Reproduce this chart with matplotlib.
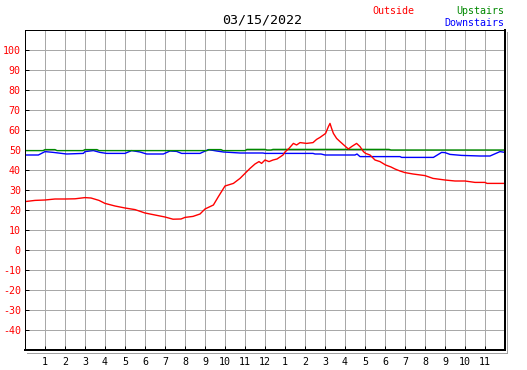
import matplotlib
matplotlib.use('Agg')
import matplotlib.pyplot as plt
from matplotlib.lines import Line2D
from matplotlib.transforms import IdentityTransform

plt.rcParams['font.family'] = ['DejaVu Sans Mono']

# ---- data (hours since midnight, temperature) ----
title = '03/15/2022'
series_names = ['Outside', 'Upstairs', 'Downstairs']

outside_t = [0, 0.5, 1, 1.5, 2, 2.5, 3, 3.3, 3.7, 4, 4.5, 5, 5.5, 6, 6.5, 7, 7.4, 7.8,
             8, 8.4, 8.75, 9, 9.42, 9.67, 10, 10.42, 10.75, 11, 11.25, 11.5, 11.7, 11.83,
             12, 12.2, 12.4, 12.6, 12.9, 13.0, 13.2, 13.42, 13.58, 13.75, 14.08, 14.4,
             14.58, 14.75, 14.92, 15.03, 15.17, 15.25, 15.33, 15.42, 15.58, 15.75, 16.03,
             16.17, 16.33, 16.58, 16.75, 16.92, 17.03, 17.25, 17.5, 17.75, 18.03, 18.3,
             18.5, 18.75, 19, 19.4, 20, 20.4, 21, 21.5, 22, 22.5, 23, 23.1, 24]
outside_v = [24.2, 24.8, 25.0, 25.5, 25.5, 25.6, 26.2, 26.0, 24.8, 23.3, 22.0, 21.0, 20.2,
             18.5, 17.5, 16.5, 15.4, 15.5, 16.3, 16.8, 18.0, 20.5, 22.5, 26.7, 32.0, 33.3,
             35.8, 38.3, 40.8, 43.0, 44.2, 43.3, 45.0, 44.2, 45.0, 45.5, 47.5, 49.0, 50.8,
             53.3, 52.5, 53.7, 53.3, 53.7, 55.3, 56.3, 57.5, 58.3, 61.7, 63.3, 60.8, 58.3,
             55.8, 54.2, 51.7, 50.5, 51.7, 53.3, 51.7, 49.2, 48.3, 47.5, 45.0, 44.2, 42.5,
             41.5, 40.5, 39.5, 38.7, 38.0, 37.2, 35.8, 35.0, 34.5, 34.5, 33.8, 33.8, 33.3, 33.3]

upstairs_t = [0, 0.9, 1.0, 1.5, 1.6, 2.9, 3.0, 3.6, 3.7, 9.1, 9.2, 9.8, 9.9, 11.0, 11.1,
              12.0, 12.1, 12.3, 12.4, 18.2, 18.3, 24]
upstairs_v = [49.7, 49.7, 50.2, 50.2, 49.7, 49.7, 50.2, 50.2, 49.7, 49.7, 50.2, 50.2, 49.7,
              49.7, 50.3, 50.3, 50.0, 50.0, 50.3, 50.3, 50.0, 50.0]

downstairs_t = [0, 0.67, 1.0, 1.42, 2.08, 2.92, 3.0, 3.42, 3.75, 4.08, 5.0, 5.33, 5.75,
                6.08, 6.92, 7.25, 7.58, 7.83, 8.75, 9.17, 9.58, 9.92, 10.75, 11.9, 12.0,
                14.4, 14.5, 14.8, 15.0, 16.5, 16.6, 16.75, 18.75, 18.83, 20.42, 20.83, 21.0,
                21.25, 21.83, 22.75, 23.25, 23.75, 24]
downstairs_v = [47.5, 47.5, 49.2, 48.8, 48.0, 48.3, 49.2, 49.7, 48.8, 48.3, 48.3, 49.7, 49.0,
                48.0, 48.0, 49.5, 49.3, 48.3, 48.3, 50.2, 49.5, 49.0, 48.5, 48.5, 48.3,
                48.3, 48.0, 48.0, 47.5, 47.5, 48.0, 46.7, 46.7, 46.3, 46.3, 48.8, 48.7,
                47.8, 47.3, 47.0, 47.0, 49.2, 48.8]

x_ticks = list(range(1, 24))
x_labels = [str(h) for h in list(range(1, 13)) + list(range(1, 12))]
y_ticks = list(range(-40, 101, 10))

colors = {'Outside': '#ff0000', 'Upstairs': '#008800', 'Downstairs': '#0000ff'}

# ---- figure ----
W, H = 527, 370
px = 0.72
fig = plt.figure(figsize=(W / 100, H / 100), dpi=100)
ax = fig.add_axes([25 / W, 20 / H, 480 / W, 320 / H])
ax.set_xlim(0, 24)
ax.set_ylim(-50, 110)

ax.set_xticks(x_ticks)
ax.set_xticklabels(x_labels)
ax.set_yticks(y_ticks)
ax.set_yticklabels([str(v) for v in y_ticks])
ax.grid(True, color='#a8a8a8', linewidth=px, antialiased=False)
ax.set_axisbelow(True)
ax.tick_params(axis='both', direction='in', length=4 * px, width=px, color='black',
               labelsize=7.2)
ax.tick_params(axis='x', pad=5)
ax.tick_params(axis='y', pad=3, labelcolor='#ff0000')
ax.tick_params(top=False, right=False)

for s in ['left', 'top']:
    ax.spines[s].set_linewidth(px)
    ax.spines[s].set_color('black')
for s in ['right', 'bottom']:
    ax.spines[s].set_linewidth(2 * px)
    ax.spines[s].set_color('black')

lw = 1.0
ax.plot(downstairs_t, downstairs_v, color=colors['Downstairs'], lw=lw, antialiased=True)
ax.plot(upstairs_t, upstairs_v, color=colors['Upstairs'], lw=lw, antialiased=True)
ax.plot(outside_t, outside_v, color=colors['Outside'], lw=lw, antialiased=True)

# shadow lines (display coords)
fig.add_artist(Line2D([506.5, 506.5], [H - 32, H - 353], transform=IdentityTransform(),
                      color='#a0a0a0', lw=px))
fig.add_artist(Line2D([27, 507], [H - 352.5, H - 352.5], transform=IdentityTransform(),
                      color='#a0a0a0', lw=px))

fig.text(262 / W, 1 - 20 / H, title, ha='center', va='center', fontsize=9.6, color='black')
fig.text(372 / W, 1 - 11 / H, series_names[0], ha='left', va='center', fontsize=7.2,
         color=colors['Outside'])
fig.text(504 / W, 1 - 11 / H, series_names[1], ha='right', va='center', fontsize=7.2,
         color=colors['Upstairs'])
fig.text(504 / W, 1 - 23 / H, series_names[2], ha='right', va='center', fontsize=7.2,
         color=colors['Downstairs'])

fig.savefig('out.png', dpi=100)
